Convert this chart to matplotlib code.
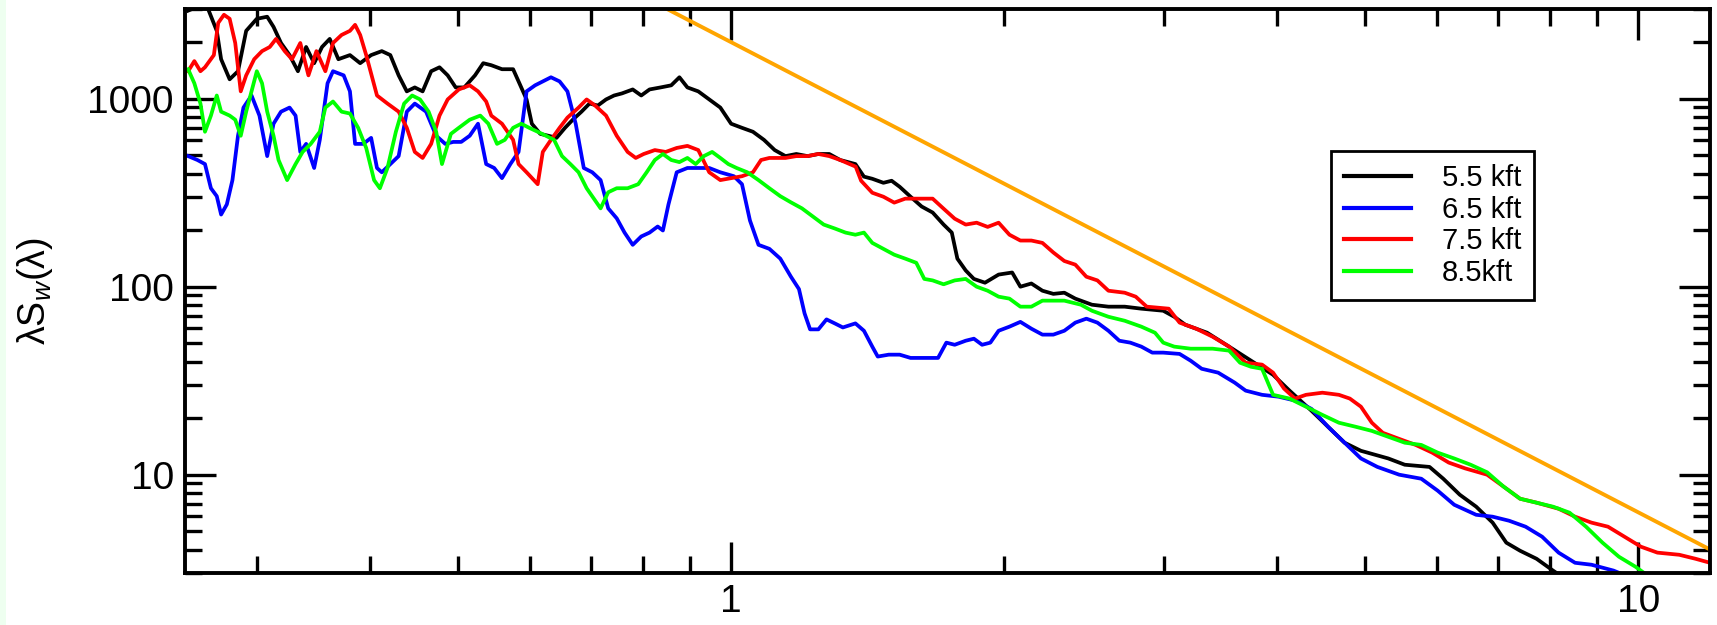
import matplotlib
matplotlib.use("Agg")
import matplotlib.pyplot as plt
from matplotlib.ticker import LogLocator, FixedLocator, FixedFormatter, NullFormatter
from matplotlib.patches import Rectangle

plt.rcParams['font.family'] = ['Liberation Sans', 'DejaVu Sans']
plt.rcParams['mathtext.fontset'] = 'custom'
plt.rcParams['mathtext.rm'] = 'Liberation Sans'
plt.rcParams['mathtext.it'] = 'Liberation Sans:italic'

# 5.5 kft
black_x = [0.252, 0.258, 0.265, 0.271, 0.274, 0.280, 0.286, 0.292, 0.300, 0.308, 0.313, 0.319,
           0.326, 0.333, 0.340, 0.347, 0.354, 0.361, 0.369, 0.380, 0.390, 0.401, 0.412, 0.421,
           0.430, 0.439, 0.448, 0.457, 0.467, 0.477, 0.487, 0.497, 0.508, 0.522, 0.533, 0.544,
           0.559, 0.575, 0.587, 0.595, 0.603, 0.616, 0.629, 0.642, 0.656, 0.669, 0.684, 0.698,
           0.713, 0.728, 0.743, 0.758, 0.779, 0.796, 0.813, 0.836, 0.859, 0.877, 0.895, 0.920,
           0.946, 0.973, 1.0, 1.028, 1.057, 1.087, 1.117, 1.148, 1.180, 1.214, 1.248, 1.283,
           1.319, 1.371, 1.401, 1.431, 1.472, 1.503, 1.534, 1.577, 1.622, 1.668, 1.715, 1.751,
           1.776, 1.814, 1.852, 1.905, 1.972, 2.041, 2.084, 2.143, 2.204, 2.266, 2.330, 2.396,
           2.499, 2.606, 2.716, 2.833, 2.995, 3.080, 3.167, 3.348, 3.540, 3.743, 3.958, 4.127,
           4.363, 4.550, 4.745, 4.947, 5.303, 5.529, 5.888, 6.097, 6.357, 6.628, 6.911, 7.155,
           7.410, 7.727, 8.056, 8.3]
black_y = [2940, 3085, 3014, 2296, 1622, 1268, 1400, 2296, 2661, 2729, 2410, 1978,
           1706, 1400, 1884, 1545, 1884, 2080, 1622, 1706, 1545, 1706, 1791, 1706,
           1331, 1094, 1148, 1094, 1400, 1469, 1331, 1148, 1148, 1331, 1545, 1507,
           1435, 1435, 1148, 991, 736, 650, 635, 619, 700, 773, 853, 942,
           920, 991, 1040, 1067, 1120, 1040, 1120, 1148, 1178, 1300, 1148, 1094,
           991, 897, 736, 700, 667, 604, 533, 495, 508, 495, 508, 508,
           472, 449, 385, 375, 357, 366, 340, 301, 267, 248, 214, 194,
           141, 122, 110, 105, 116, 119, 100, 104, 95.2, 91.6, 92.9, 86.4,
           80.2, 78.3, 78.3, 76.4, 74.5, 69.2, 62.8, 56.9, 48.0, 40.4, 34.0, 28.0,
           21.9, 18.0, 14.8, 13.4, 12.2, 11.3, 11.0, 9.52, 7.83, 6.76, 5.56, 4.35,
           3.94, 3.57, 3.09, 2.8]

# 6.5 kft
blue_x = [0.252, 0.258, 0.263, 0.267, 0.271, 0.274, 0.278, 0.282, 0.286, 0.290, 0.296, 0.302,
          0.308, 0.313, 0.319, 0.326, 0.331, 0.335, 0.340, 0.347, 0.352, 0.359, 0.364, 0.374,
          0.380, 0.385, 0.393, 0.401, 0.407, 0.412, 0.421, 0.430, 0.439, 0.448, 0.461, 0.473,
          0.484, 0.494, 0.504, 0.515, 0.526, 0.537, 0.548, 0.559, 0.571, 0.583, 0.595, 0.608,
          0.620, 0.633, 0.647, 0.660, 0.674, 0.688, 0.703, 0.718, 0.732, 0.748, 0.763, 0.779,
          0.796, 0.813, 0.830, 0.841, 0.853, 0.871, 0.895, 0.920, 0.946, 0.973, 1.007, 1.028,
          1.049, 1.072, 1.102, 1.133, 1.164, 1.188, 1.205, 1.222, 1.248, 1.274, 1.301, 1.328,
          1.371, 1.401, 1.431, 1.451, 1.492, 1.534, 1.577, 1.691, 1.727, 1.764, 1.814, 1.852,
          1.891, 1.931, 1.972, 2.027, 2.084, 2.143, 2.204, 2.266, 2.330, 2.396, 2.464, 2.534,
          2.606, 2.679, 2.755, 2.833, 2.913, 2.995, 3.122, 3.211, 3.302, 3.443, 3.590, 3.692,
          3.849, 4.013, 4.185, 4.363, 4.550, 4.745, 4.947, 5.158, 5.452, 5.766, 6.012, 6.269,
          6.628, 6.911, 7.206, 7.514, 7.836, 8.171, 8.520, 8.882, 9.393, 9.7]
blue_y = [495, 472, 449, 334, 303, 242, 274, 369, 635, 897, 1040, 813,
          495, 736, 853, 897, 813, 521, 575, 428, 604, 1208, 1400, 1331,
          1094, 575, 575, 619, 428, 406, 449, 495, 853, 942, 853, 635,
          575, 589, 589, 635, 736, 449, 428, 378, 449, 521, 1094, 1178,
          1236, 1300, 1236, 1094, 736, 428, 406, 369, 261, 231, 194, 167,
          185, 194, 209, 199, 274, 406, 428, 428, 428, 406, 387, 351,
          225, 167, 159, 141, 113, 97.1, 72.1, 59.3, 59.3, 67.0, 63.8, 60.7,
          63.8, 58.3, 48.0, 42.5, 43.5, 43.5, 41.8, 41.8, 50.4, 49.1, 51.6, 52.9,
          49.1, 50.4, 58.3, 61.3, 65.0, 59.8, 55.6, 55.6, 58.3, 64.4, 67.6, 64.4,
          58.3, 51.6, 50.4, 48.0, 44.6, 44.6, 43.9, 40.4, 36.6, 34.9, 30.9, 28.0,
          26.6, 26.0, 24.8, 22.4, 18.0, 14.8, 12.2, 11.0, 10.0, 9.52, 8.22, 6.92,
          6.12, 5.98, 5.69, 5.29, 4.68, 3.85, 3.40, 3.32, 3.09, 2.9]

# 7.5 kft
red_x = [0.252, 0.256, 0.260, 0.263, 0.269, 0.272, 0.276, 0.280, 0.284, 0.288, 0.292, 0.298,
         0.304, 0.310, 0.315, 0.322, 0.328, 0.335, 0.342, 0.349, 0.357, 0.364, 0.372, 0.380,
         0.385, 0.390, 0.396, 0.407, 0.418, 0.430, 0.439, 0.448, 0.457, 0.467, 0.477, 0.487,
         0.501, 0.515, 0.526, 0.537, 0.544, 0.559, 0.575, 0.583, 0.595, 0.612, 0.620, 0.633,
         0.647, 0.660, 0.679, 0.693, 0.708, 0.728, 0.748, 0.769, 0.785, 0.801, 0.824, 0.847,
         0.871, 0.895, 0.920, 0.946, 0.973, 1.0, 1.028, 1.057, 1.079, 1.102, 1.148, 1.180,
         1.214, 1.248, 1.283, 1.319, 1.372, 1.391, 1.431, 1.472, 1.513, 1.556, 1.600, 1.668,
         1.715, 1.764, 1.814, 1.865, 1.918, 1.972, 2.027, 2.084, 2.143, 2.204, 2.266, 2.330,
         2.396, 2.464, 2.534, 2.606, 2.716, 2.793, 2.872, 3.037, 3.122, 3.256, 3.395, 3.540,
         3.692, 3.849, 3.958, 4.070, 4.185, 4.303, 4.486, 4.678, 4.810, 4.947, 5.086, 5.230,
         5.452, 5.685, 5.929, 6.182, 6.446, 6.815, 7.106, 7.410, 7.727, 8.171, 8.520, 8.882,
         9.262, 9.659, 10.07, 10.50, 11.10, 11.57, 12.0]
red_y = [1400, 1585, 1400, 1469, 1706, 2531, 2795, 2661, 1978, 1094, 1331, 1622,
         1791, 1884, 2080, 1791, 1622, 1978, 1331, 1791, 1400, 1978, 2183, 2296,
         2471, 2183, 1706, 1040, 942, 853, 700, 521, 484, 575, 813, 991,
         1120, 1178, 1094, 966, 813, 736, 604, 449, 406, 351, 521, 604,
         700, 793, 897, 991, 920, 813, 635, 521, 484, 508, 533, 521,
         547, 561, 533, 406, 369, 378, 387, 406, 472, 484, 484, 495,
         495, 508, 495, 472, 435, 366, 316, 301, 280, 294, 294, 294,
         260, 230, 214, 219, 208, 219, 189, 176, 176, 171, 152, 137,
         131, 113, 108, 95.2, 92.9, 88.5, 78.3, 76.4, 64.4, 59.8, 54.2, 48.0,
         39.4, 38.5, 34.9, 28.7, 25.4, 26.6, 27.3, 26.6, 25.4, 23.0, 18.9, 16.7,
         15.5, 14.4, 13.1, 11.6, 10.8, 10.0, 8.64, 7.45, 7.10, 6.59, 5.98, 5.56,
         5.29, 4.68, 4.14, 3.85, 3.75, 3.57, 3.40]

# 8.5 kft
green_x = [0.252, 0.256, 0.260, 0.263, 0.267, 0.271, 0.274, 0.280, 0.284, 0.288, 0.292, 0.296,
           0.300, 0.304, 0.308, 0.313, 0.317, 0.324, 0.331, 0.337, 0.344, 0.352, 0.357, 0.364,
           0.372, 0.380, 0.388, 0.396, 0.404, 0.410, 0.418, 0.427, 0.436, 0.445, 0.454, 0.464,
           0.473, 0.480, 0.491, 0.501, 0.515, 0.529, 0.540, 0.552, 0.563, 0.575, 0.587, 0.599,
           0.612, 0.625, 0.638, 0.651, 0.665, 0.679, 0.693, 0.708, 0.718, 0.732, 0.748, 0.769,
           0.790, 0.807, 0.824, 0.841, 0.859, 0.877, 0.895, 0.914, 0.933, 0.953, 0.973, 0.993,
           1.014, 1.042, 1.072, 1.102, 1.133, 1.164, 1.197, 1.231, 1.265, 1.301, 1.337, 1.371,
           1.401, 1.431, 1.472, 1.513, 1.556, 1.600, 1.633, 1.668, 1.715, 1.764, 1.814, 1.865,
           1.918, 1.972, 2.027, 2.084, 2.143, 2.204, 2.330, 2.430, 2.499, 2.606, 2.716, 2.833,
           2.933, 2.995, 3.080, 3.211, 3.395, 3.540, 3.640, 3.743, 3.849, 3.958, 4.127, 4.303,
           4.486, 4.678, 4.879, 5.086, 5.303, 5.529, 5.766, 6.012, 6.269, 6.535, 6.815, 7.106,
           7.410, 7.727, 8.056, 8.401, 8.760, 9.134, 9.524, 9.931, 10.21]
green_y = [1435, 1208, 942, 667, 813, 1040, 853, 813, 773, 635, 853, 1094,
           1400, 1208, 853, 635, 472, 369, 449, 521, 575, 667, 897, 966,
           853, 834, 700, 547, 369, 334, 428, 667, 942, 1040, 991, 853,
           667, 449, 650, 700, 773, 813, 736, 575, 604, 700, 736, 700,
           667, 635, 604, 495, 449, 406, 334, 288, 261, 318, 334, 334,
           351, 406, 472, 508, 472, 460, 484, 449, 495, 521, 484, 449,
           428, 406, 369, 334, 303, 281, 261, 236, 214, 204, 194, 189,
           194, 171, 159, 148, 141, 134, 110, 108, 103, 108, 110, 100,
           95.2, 88.5, 86.4, 78.3, 78.3, 84.3, 84.3, 80.2, 74.5, 69.2, 65.9, 61.3,
           56.9, 50.4, 48.0, 46.8, 46.8, 45.7, 39.4, 37.5, 36.6, 26.6, 25.4, 23.0,
           20.8, 18.9, 18.0, 17.1, 15.9, 14.8, 14.4, 13.1, 12.2, 11.3, 10.3, 8.64,
           7.45, 7.10, 6.76, 6.28, 5.29, 4.35, 3.66, 3.24, 2.94]

# reference power law (orange)
ref_x = [0.85, 12.0]
ref_y = [3000, 4.0]

labels = ['5.5 kft', '6.5 kft', '7.5 kft', '8.5kft']
colors = ['#000000', '#0000ff', '#ff0000', '#00ff00']

fig = plt.figure(figsize=(17.17, 6.25), dpi=100)
fig.patches.append(Rectangle((0, 0), 6 / 1717, 1, transform=fig.transFigure,
                             facecolor='#eefff0', edgecolor='none', zorder=-10))
ax = fig.add_axes([185 / 1717, 52 / 625, 1525 / 1717, 564 / 625])

lw = 2.7
ax.plot(ref_x, ref_y, color='#ffa500', lw=2.8)
series = [(black_x, black_y), (blue_x, blue_y), (red_x, red_y), (green_x, green_y)]
for (xs, ys), c, lab in zip(series, colors, labels):
    ax.plot(xs, ys, color=c, lw=lw, label=lab)

ax.set_xscale('log')
ax.set_yscale('log')
ax.set_xlim(0.25, 12)
ax.set_ylim(3, 3000)

ax.xaxis.set_major_locator(FixedLocator([1, 10]))
ax.xaxis.set_major_formatter(FixedFormatter(['1', '10']))
ax.xaxis.set_minor_locator(LogLocator(base=10, subs=range(2, 10)))
ax.xaxis.set_minor_formatter(NullFormatter())
ax.yaxis.set_major_locator(FixedLocator([10, 100, 1000]))
ax.yaxis.set_major_formatter(FixedFormatter(['10', '100', '1000']))
ax.yaxis.set_minor_locator(LogLocator(base=10, subs=range(2, 10)))
ax.yaxis.set_minor_formatter(NullFormatter())

ax.tick_params(which='both', direction='in', top=True, right=True, width=2.4)
ax.tick_params(which='major', length=22, labelsize=28)
ax.tick_params(which='minor', length=12)
ax.tick_params(axis='x', which='major', pad=8)
ax.tick_params(axis='y', which='major', pad=8)
for sp in ax.spines.values():
    sp.set_linewidth(2.8)

ax.set_ylabel('λS$_w$(λ)', fontsize=27)
ax.yaxis.set_label_coords(-0.085, 0.5)

leg = ax.legend(loc='upper left', bbox_to_anchor=(0.7515, 0.748), borderaxespad=0,
                fontsize=21, frameon=True, fancybox=False, framealpha=1,
                edgecolor='black', handlelength=2.3, handletextpad=1.05,
                borderpad=0.45, labelspacing=0.12)
leg.get_frame().set_linewidth(2.0)
for line in leg.get_lines():
    line.set_linewidth(3.0)

fig.savefig('out.png', dpi=100)
